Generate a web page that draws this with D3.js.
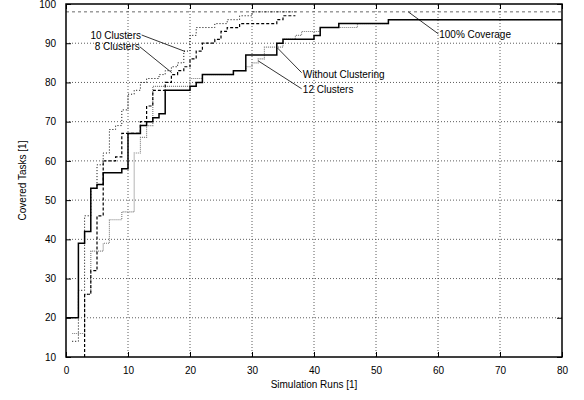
<!DOCTYPE html>
<html>
<head>
<meta charset="utf-8">
<script src="https://cdn.jsdelivr.net/npm/d3@7"></script>
<style>
  body { margin: 0; background: #fff; }
  text { font-family: "Liberation Sans", Arial, sans-serif; font-size: 10px; fill: #000; }
</style>
</head>
<body>
<div id="d3-container"></div>
<script>
/**
 * CONSTANTS
 * */
const width = 584,
  height = 400,
  margin = { top: 4, bottom: 43, left: 66, right: 22 };

// axis ticks
const xTicks = [0, 10, 20, 30, 40, 50, 60, 70, 80];
const yTicks = [10, 20, 30, 40, 50, 60, 70, 80, 90, 100];

// 100% coverage level
const coverage = 98;

// step data (simulation run -> covered tasks)
const runsWithout = [0, 2, 3, 4, 5, 6, 9, 10, 12, 13, 14, 15, 16, 20, 21, 22, 27, 29, 34, 35, 40, 41, 44, 52, 80];
const tasksWithout = [20, 39, 42, 53, 54, 57, 58, 67, 69, 70, 71, 72, 78, 79, 80, 82, 83, 87, 90, 91, 92, 94, 95, 96, 96];

const runs8 = [3, 3, 4, 5, 6, 8, 9, 12, 13, 14, 16, 17, 18, 19, 20, 21, 22, 24, 25, 26, 28, 34, 35, 37];
const tasks8 = [10, 26, 32, 46, 60, 61, 67, 70, 74, 78, 80, 82, 83, 84, 86, 88, 90, 91, 93, 94, 95, 96, 97, 97];

const runs10 = [1, 2, 3, 4, 5, 6, 7, 8, 9, 10, 11, 12, 13, 15, 16, 17, 18, 19, 20, 21, 24, 26, 28, 30, 37];
const tasks10 = [14, 27, 46, 53, 59, 62, 68, 69, 73, 77, 78, 80, 81, 82, 83, 84, 85, 88, 92, 94, 95, 96, 97, 98, 98];

const runs12 = [1, 3, 4, 6, 7, 9, 11, 12, 13, 14, 20, 22, 27, 29, 30, 31, 32, 35, 37, 38, 41, 47, 52, 80];
const tasks12 = [16, 26, 37, 39, 45, 47, 62, 66, 69, 79, 81, 82, 83, 84, 85, 86, 89, 91, 92, 93, 94, 95, 96, 96];

let svg;

init();

function init() {
  const x = d3.scaleLinear()
    .domain([0, 80])
    .range([margin.left, width - margin.right]);

  const y = d3.scaleLinear()
    .domain([10, 100])
    .range([height - margin.bottom, margin.top]);

  svg = d3.select("#d3-container")
    .append("svg")
    .attr("width", width)
    .attr("height", height);

  // grid (dotted)
  svg.selectAll("line.vgrid")
    .data(xTicks.slice(1, -1))
    .join("line")
    .attr("class", "vgrid")
    .attr("x1", d => x(d)).attr("x2", d => x(d))
    .attr("y1", y(10)).attr("y2", y(100))
    .attr("stroke", "#333")
    .attr("stroke-width", 0.8)
    .attr("stroke-dasharray", "1,2");

  svg.selectAll("line.hgrid")
    .data(yTicks.slice(1, -1))
    .join("line")
    .attr("class", "hgrid")
    .attr("x1", x(0)).attr("x2", x(80))
    .attr("y1", d => y(d)).attr("y2", d => y(d))
    .attr("stroke", "#333")
    .attr("stroke-width", 0.8)
    .attr("stroke-dasharray", "1,2");

  // 100% coverage line
  svg.append("line")
    .attr("x1", x(0)).attr("x2", x(80))
    .attr("y1", y(coverage)).attr("y2", y(coverage))
    .attr("stroke", "#444")
    .attr("stroke-width", 0.8)
    .attr("stroke-dasharray", "3,3");

  // axes: ticks inside, mirrored on top/right
  const xAxis = d3.axisBottom(x).tickValues(xTicks).tickSize(-5).tickPadding(10);
  const yAxis = d3.axisLeft(y).tickValues(yTicks).tickSize(-5).tickPadding(10);

  svg.append("g")
    .attr("transform", `translate(0,${y(10)})`)
    .call(xAxis)
    .call(g => g.select(".domain").remove());

  svg.append("g")
    .attr("transform", `translate(${x(0)},0)`)
    .call(yAxis)
    .call(g => g.select(".domain").remove());

  svg.append("g")
    .attr("transform", `translate(0,${y(100)})`)
    .call(d3.axisTop(x).tickValues(xTicks).tickSize(-5).tickFormat(""))
    .call(g => g.select(".domain").remove());

  svg.append("g")
    .attr("transform", `translate(${x(80)},0)`)
    .call(d3.axisRight(y).tickValues(yTicks).tickSize(-5).tickFormat(""))
    .call(g => g.select(".domain").remove());

  svg.selectAll(".tick text").attr("font-size", 10).attr("font-family", "Liberation Sans, Arial, sans-serif");
  svg.selectAll(".tick line").attr("stroke", "#000");

  // series
  const line = d3.line()
    .x(d => x(d[0]))
    .y(d => y(d[1]))
    .curve(d3.curveStepAfter);

  const series = [
    { runs: runs12, tasks: tasks12, color: "#7a7a7a", w: 1.1, dash: "1,1" },
    { runs: runs10, tasks: tasks10, color: "#000", w: 1, dash: "1,2" },
    { runs: runs8, tasks: tasks8, color: "#000", w: 1.2, dash: "3,2" },
    { runs: runsWithout, tasks: tasksWithout, color: "#000", w: 1.5, dash: null }
  ];

  svg.selectAll("path.series")
    .data(series)
    .join("path")
    .attr("class", "series")
    .attr("fill", "none")
    .attr("stroke", d => d.color)
    .attr("stroke-width", d => d.w)
    .attr("stroke-dasharray", d => d.dash)
    .attr("d", d => line(d.runs.map((r, i) => [r, d.tasks[i]])));

  // frame
  svg.append("rect")
    .attr("x", x(0)).attr("y", y(100))
    .attr("width", x(80) - x(0))
    .attr("height", y(10) - y(100))
    .attr("fill", "none")
    .attr("stroke", "#000")
    .attr("stroke-width", 1.5);

  // annotations, in data coordinates
  const notes = [
    { text: "10 Clusters", tx: 12.1, ty: 91.1, anchor: "end", from: [12.2, 92.1], to: [19.2, 87.9] },
    { text: "8 Clusters", tx: 11.9, ty: 88.3, anchor: "end", from: [11.9, 89.1], to: [17.05, 82.5] },
    { text: "Without Clustering", tx: 38.2, ty: 81.1, anchor: "start", from: [38.0, 82.5], to: [34.1, 88.8] },
    { text: "12 Clusters", tx: 38.2, ty: 77.4, anchor: "start", from: [38.0, 78.4], to: [31.0, 85.5] },
    { text: "100% Coverage", tx: 60.2, ty: 91.4, anchor: "start", from: [60.05, 92.4], to: [55.2, 98] }
  ];

  svg.selectAll("line.pointer")
    .data(notes)
    .join("line")
    .attr("class", "pointer")
    .attr("x1", d => x(d.from[0])).attr("y1", d => y(d.from[1]))
    .attr("x2", d => x(d.to[0])).attr("y2", d => y(d.to[1]))
    .attr("stroke", "#000")
    .attr("stroke-width", 0.8);

  svg.selectAll("text.note")
    .data(notes)
    .join("text")
    .attr("class", "note")
    .attr("x", d => x(d.tx))
    .attr("y", d => y(d.ty))
    .attr("text-anchor", d => d.anchor)
    .text(d => d.text);

  // axis titles
  svg.append("text")
    .attr("x", (x(0) + x(80)) / 2)
    .attr("y", 388)
    .attr("text-anchor", "middle")
    .text("Simulation Runs [1]");

  svg.append("text")
    .attr("transform", `translate(26,${(y(10) + y(100)) / 2}) rotate(-90)`)
    .attr("text-anchor", "middle")
    .text("Covered Tasks [1]");
}
</script>
</body>
</html>
